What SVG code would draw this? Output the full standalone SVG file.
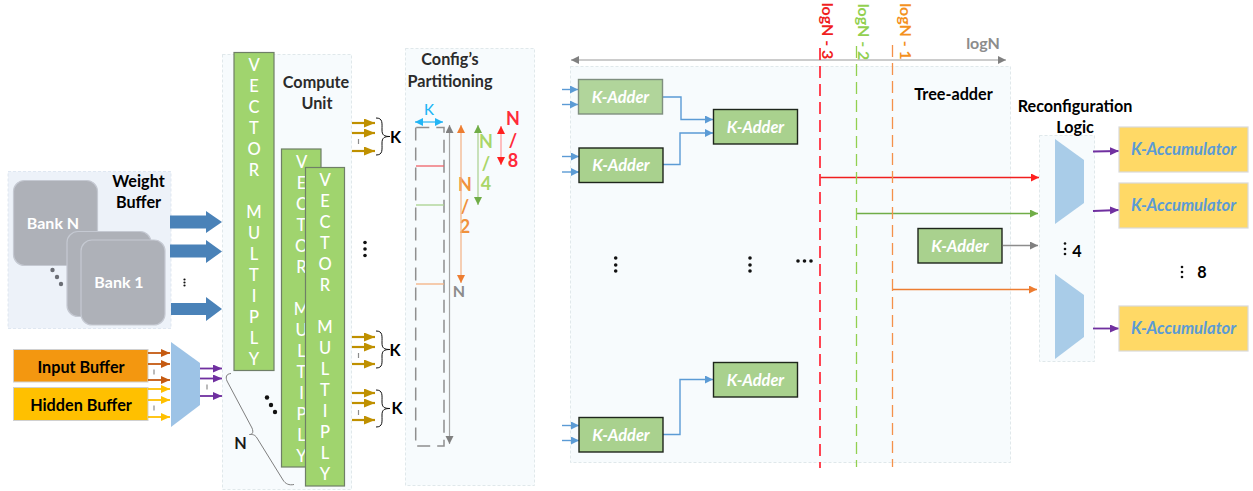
<svg xmlns="http://www.w3.org/2000/svg" width="1253" height="491" viewBox="0 0 1253 491">
<style>
text{font-family:"Lato","Carlito","Open Sans",sans-serif;text-anchor:middle;dominant-baseline:central}
.b{font-weight:700;font-size:16.2px;fill:#000}
.s{font-weight:700;font-size:16.2px;fill:#2b2b2b}
.panel{fill:#f7fbfd;stroke:#d9e2e6;stroke-width:.8;stroke-dasharray:3 2}
.bank{fill:#aeb1b8;stroke:#c5c9d2;stroke-width:1.2}
.bt{font-weight:700;font-size:16px;fill:#fff}
.vm{fill:#a0d46e;stroke:#6f7f67;stroke-width:1.2}
.vt{font-size:16.5px;fill:#fff;font-weight:500}
.ka{fill:#a9d18e;stroke:#1e261c;stroke-width:1.4}
.kt{font-size:16.4px;font-weight:700;font-style:italic;fill:#fff}
.acc{fill:#ffd966;stroke:#d9d9d9;stroke-width:1.2}
.at{font-size:16.6px;font-weight:700;font-style:italic;fill:#5b9bd5}
.mux{fill:#a9cce8}
.w{fill:none}
.tick{stroke:#8c8c8c;stroke-width:1.2}
.dot{fill:#111}
.arrow{fill:#4a82b8}
.frac{font-size:18px;font-weight:700}
.lg{font-size:16px;font-weight:700}
</style>
<defs>
<marker id="mB" markerUnits="userSpaceOnUse" markerWidth="9" markerHeight="9" refX="8" refY="4" orient="auto"><path d="M0 0L8 4L0 8z" fill="#5b9bd5"/></marker>
<marker id="mO" markerUnits="userSpaceOnUse" markerWidth="10" markerHeight="9" refX="9" refY="4" orient="auto"><path d="M0 0L9 4L0 8z" fill="#c55a11"/></marker>
<marker id="mY" markerUnits="userSpaceOnUse" markerWidth="10" markerHeight="9" refX="9" refY="4" orient="auto"><path d="M0 0L9 4L0 8z" fill="#ffc000"/></marker>
<marker id="mP" markerUnits="userSpaceOnUse" markerWidth="10" markerHeight="9" refX="9" refY="4" orient="auto"><path d="M0 0L9 4L0 8z" fill="#7030a0"/></marker>
<marker id="mG" markerUnits="userSpaceOnUse" markerWidth="12" markerHeight="10" refX="11" refY="4.500" orient="auto"><path d="M0 0L11 4.500L0 9z" fill="#bf9000"/></marker>
<marker id="mR" markerUnits="userSpaceOnUse" markerWidth="9" markerHeight="9" refX="8" refY="4" orient="auto-start-reverse"><path d="M0 0L8 4L0 8z" fill="#ff1f1f"/></marker>
<marker id="mL" markerUnits="userSpaceOnUse" markerWidth="9" markerHeight="9" refX="8" refY="4" orient="auto-start-reverse"><path d="M0 0L8 4L0 8z" fill="#70ad47"/></marker>
<marker id="mA" markerUnits="userSpaceOnUse" markerWidth="9" markerHeight="9" refX="8" refY="4" orient="auto-start-reverse"><path d="M0 0L8 4L0 8z" fill="#ed7d31"/></marker>
<marker id="mK" markerUnits="userSpaceOnUse" markerWidth="9" markerHeight="9" refX="8" refY="4" orient="auto-start-reverse"><path d="M0 0L8 4L0 8z" fill="#808080"/></marker>
<marker id="mC" markerUnits="userSpaceOnUse" markerWidth="9" markerHeight="9" refX="8" refY="4" orient="auto-start-reverse"><path d="M0 0L8 4L0 8z" fill="#22b5f5"/></marker>
</defs>

<g id="compute-unit-panel"><rect class="panel" x="222.500" y="54.500" width="129" height="435"/></g>
<g id="config-panel"><rect class="panel" x="405.500" y="48.500" width="129" height="437"/></g>
<g id="tree-adder-panel"><rect class="panel" x="570.500" y="66.500" width="440" height="396"/></g>
<g id="reconfig-panel"><rect class="panel" x="1039.500" y="135.500" width="55" height="226"/></g>

<g id="weight-buffer">
<rect x="8" y="171.500" width="163" height="157" fill="#edf2f9" stroke="#d9e2ee" stroke-width=".8" stroke-dasharray="3 2"/>
<rect class="bank" x="13.500" y="180.500" width="84" height="85" rx="11"/>
<text class="bt" x="53" y="222">Bank N</text>
<rect class="bank" x="67" y="231.500" width="84" height="85" rx="11"/>
<rect class="bank" x="81" y="240" width="84" height="85" rx="11"/>
<text class="bt" x="119" y="281">Bank 1</text>
<circle cx="52.500" cy="270" r="2.200" fill="#6b6e75"/><circle cx="57" cy="277" r="2.200" fill="#6b6e75"/><circle cx="61" cy="284" r="2.200" fill="#6b6e75"/>
<text class="b" x="138.500" y="180">Weight</text>
<text class="b" x="138.500" y="201">Buffer</text>
</g>
<g id="weight-arrows">
<path class="arrow" d="M170 215.500H206V211L222 222L206 233V228.500H170z"/>
<path class="arrow" d="M170 244.500H206V240L222 251.500L206 263V257.500H170z"/>
<path class="arrow" d="M171 303H206V297L222 309L206 321V315H171z"/>
<circle class="dot" cx="184.500" cy="279.500" r="1.100"/><circle class="dot" cx="184.500" cy="282.500" r="1.100"/><circle class="dot" cx="184.500" cy="285.500" r="1.100"/>
</g>

<g id="input-buffer"><rect x="13.500" y="349.500" width="134.500" height="32.500" fill="#f39710" stroke="#d0d0d0" stroke-width="1"/><text class="b" x="81" y="366">Input Buffer</text></g>
<g id="hidden-buffer"><rect x="13.500" y="387.500" width="134.500" height="33" fill="#ffc000" stroke="#d0d0d0" stroke-width="1"/><text class="b" x="81" y="404">Hidden Buffer</text></g>
<g id="input-mux"><polygon points="171,342 200,363 200,405 171,427" fill="#9dc3e6"/></g>

<g id="vector-multiply-1"><rect class="vm" x="234" y="52.500" width="40" height="318"/>
<text class="vt" x="254" y="65">V</text><text class="vt" x="254" y="86">E</text><text class="vt" x="254" y="107">C</text><text class="vt" x="254" y="128">T</text><text class="vt" x="254" y="149">O</text><text class="vt" x="254" y="170">R</text><text class="vt" x="254" y="212">M</text><text class="vt" x="254" y="233">U</text><text class="vt" x="254" y="254">L</text><text class="vt" x="254" y="275">T</text><text class="vt" x="254" y="296">I</text><text class="vt" x="254" y="317">P</text><text class="vt" x="254" y="338">L</text><text class="vt" x="254" y="359">Y</text></g>
<g id="vector-multiply-2"><rect class="vm" x="281.500" y="149" width="39.500" height="318"/>
<text class="vt" x="301.500" y="162">V</text><text class="vt" x="301.500" y="183">E</text><text class="vt" x="301.500" y="204">C</text><text class="vt" x="301.500" y="225">T</text><text class="vt" x="301.500" y="246">O</text><text class="vt" x="301.500" y="267">R</text><text class="vt" x="301.500" y="309">M</text><text class="vt" x="301.500" y="330">U</text><text class="vt" x="301.500" y="351">L</text><text class="vt" x="301.500" y="372">T</text><text class="vt" x="301.500" y="393">I</text><text class="vt" x="301.500" y="414">P</text><text class="vt" x="301.500" y="435">L</text><text class="vt" x="301.500" y="456">Y</text></g>
<g id="vector-multiply-3"><rect class="vm" x="305.500" y="167.500" width="39" height="318.500"/>
<text class="vt" x="325" y="180">V</text><text class="vt" x="325" y="201">E</text><text class="vt" x="325" y="222">C</text><text class="vt" x="325" y="243">T</text><text class="vt" x="325" y="264">O</text><text class="vt" x="325" y="285">R</text><text class="vt" x="325" y="327">M</text><text class="vt" x="325" y="348">U</text><text class="vt" x="325" y="369">L</text><text class="vt" x="325" y="390">T</text><text class="vt" x="325" y="411">I</text><text class="vt" x="325" y="432">P</text><text class="vt" x="325" y="453">L</text><text class="vt" x="325" y="474">Y</text></g>

<g id="compute-labels">
<text class="s" x="316" y="81">Compute</text>
<text class="s" x="317" y="102">Unit</text>
<text class="b" x="240.500" y="442" style="fill:#1a1a1a">N</text>
<circle class="dot" cx="267" cy="397.500" r="2.200"/><circle class="dot" cx="271" cy="405" r="2.200"/><circle class="dot" cx="275" cy="412" r="2.200"/>
<circle class="dot" cx="365" cy="242.500" r="1.800"/><circle class="dot" cx="365" cy="249" r="1.800"/><circle class="dot" cx="365" cy="255.500" r="1.800"/>
<path d="M231 373.500C226 374 225.500 377 227 381L252 428C254 433 252 434.500 249.500 434.500C252 434.500 254.500 434 257 438L283 480C285.500 484 289 485.500 294 484.500" fill="none" stroke="#7f7f7f" stroke-width="1"/>
<text class="b" x="395.500" y="136">K</text><text class="b" x="395" y="349">K</text><text class="b" x="397" y="407">K</text>
<path d="M376 118C383 118 382 123 382 130C382 135 384 136.500 390 136.500C384 136.500 382 138 382 143C382 150 383 155 376 155" fill="none" stroke="#111" stroke-width="1"/>
<path d="M376 331C383 331 382 336 382 343C382 348 384 349.500 390 349.500C384 349.500 382 351 382 356C382 363 383 368 376 368" fill="none" stroke="#111" stroke-width="1"/>
<path d="M376 390C383 390 382 395 382 402C382 407 384 408.500 390 408.500C384 408.500 382 410 382 415C382 422 383 427 376 427" fill="none" stroke="#111" stroke-width="1"/>
</g>

<g id="config-labels">
<text class="s" x="450" y="58">Config’s</text>
<text class="s" x="450" y="80">Partitioning</text>
<text x="429" y="108.500" style="font-size:15px;fill:#22b5f5;font-weight:500">K</text>
<text x="459" y="290.500" style="font-size:16px;font-weight:700;fill:#8c8c8c">N</text>
<g class="frac" style="fill:#f0923c"><text x="465" y="184">N</text><text x="465" y="206">/</text><text x="465" y="226">2</text></g>
<g class="frac" style="fill:#a9d668"><text x="486" y="141">N</text><text x="486" y="163">/</text><text x="486" y="183">4</text></g>
<g class="frac" style="fill:#ff2a3a"><text x="513" y="118">N</text><text x="513" y="140">/</text><text x="513" y="160">8</text></g>
<path d="M415.700 127.500V446H444V127.500H415.700" fill="none" stroke="#8f8f8f" stroke-width="1.500" stroke-dasharray="13 7"/>
</g>

<g id="connectors">
<g class="w" stroke-width="1.800">
<g stroke="#c55a11"><path d="M148 353H170" marker-end="url(#mO)"/><path d="M148 364H170" marker-end="url(#mO)"/><path d="M148 380H170" marker-end="url(#mO)"/></g>
<g stroke="#ffc000"><path d="M148 389H170" marker-end="url(#mY)"/><path d="M148 400H170" marker-end="url(#mY)"/><path d="M148 417H170" marker-end="url(#mY)"/></g>
<g stroke="#7030a0"><path d="M200 368.500H222" marker-end="url(#mP)"/><path d="M200 378.500H222" marker-end="url(#mP)"/><path d="M200 396H222" marker-end="url(#mP)"/>
<path d="M1093 151.500L1119 151" marker-end="url(#mP)"/><path d="M1093 211L1119 210" marker-end="url(#mP)"/><path d="M1093 328.500H1119" marker-end="url(#mP)"/></g>
<g stroke="#bf9000" stroke-width="2.200"><path d="M352 123H375" marker-end="url(#mG)"/><path d="M352 133H375" marker-end="url(#mG)"/><path d="M352 151H375" marker-end="url(#mG)"/>
<path d="M352 337H375" marker-end="url(#mG)"/><path d="M352 347H375" marker-end="url(#mG)"/><path d="M352 364H375" marker-end="url(#mG)"/>
<path d="M352 393H375" marker-end="url(#mG)"/><path d="M352 403H375" marker-end="url(#mG)"/><path d="M352 420H375" marker-end="url(#mG)"/></g>
<path d="M415 122H443" stroke="#22b5f5" stroke-width="1.200" marker-start="url(#mC)" marker-end="url(#mC)"/>
<path d="M449.500 125V444" stroke="#a6a6a6" stroke-width="1.200" marker-start="url(#mK)" marker-end="url(#mK)"/>
<path d="M461 125V283" stroke="#f4b183" stroke-width="1.200" marker-start="url(#mA)" marker-end="url(#mA)"/>
<path d="M478 125V205" stroke="#a9d18e" stroke-width="1.200" marker-start="url(#mL)" marker-end="url(#mL)"/>
<path d="M501 126V165" stroke="#ffaaaa" stroke-width="1.500" marker-start="url(#mR)" marker-end="url(#mR)"/>
<path d="M416 166H444" stroke="#f06068" stroke-width="1.300"/><path d="M416 205H444" stroke="#a9d18e" stroke-width="1.300"/><path d="M416 284H444" stroke="#f4b183" stroke-width="1.300"/>
<g stroke="#5b9bd5" stroke-width="1.400"><path d="M562 89.500H578" marker-end="url(#mB)"/><path d="M562 104.500H578" marker-end="url(#mB)"/><path d="M562 156.500H579" marker-end="url(#mB)"/><path d="M562 172H579" marker-end="url(#mB)"/><path d="M562 425.500H579" marker-end="url(#mB)"/><path d="M562 440.500H579" marker-end="url(#mB)"/>
<path d="M663 97H681V119.500H713" marker-end="url(#mB)"/><path d="M663 164.500H680V133H713" marker-end="url(#mB)"/><path d="M663 434.500H680V379.500H713" marker-end="url(#mB)"/></g>
<path d="M571 60H1006" stroke="#999" stroke-width="1.200" marker-start="url(#mK)" marker-end="url(#mK)"/>
<path d="M820 177.500H1039" stroke="#f01f1f" stroke-width="1.400" marker-end="url(#mR)"/>
<path d="M856.500 213.500H1038" stroke="#70ad47" stroke-width="1.500" marker-end="url(#mL)"/>
<path d="M893 289.500H1037" stroke="#ed7d31" stroke-width="1.500" marker-end="url(#mA)"/>
<path d="M1003 245.500H1038" stroke="#8c8c8c" stroke-width="1.600" marker-end="url(#mK)"/>
</g>
<path d="M820 48V468" stroke="#ff3040" stroke-width="1.800" fill="none" stroke-dasharray="12 6"/>
<path d="M856.500 46V467" stroke="#92d050" stroke-width="1.300" fill="none" stroke-dasharray="12 6"/>
<path d="M892.500 45V467" stroke="#f4914a" stroke-width="1.300" fill="none" stroke-dasharray="12 6"/>
<line class="tick" x1="154" y1="369.500" x2="154" y2="374.500"/><line class="tick" x1="154" y1="405.500" x2="154" y2="410.500"/><line class="tick" x1="207" y1="384.500" x2="207" y2="389.500"/>
<line class="tick" x1="358.500" y1="139" x2="358.500" y2="144"/><line class="tick" x1="358.500" y1="353" x2="358.500" y2="358"/><line class="tick" x1="358.500" y1="410" x2="358.500" y2="415"/>
</g>

<g id="k-adder-1"><rect class="ka" style="fill:#b1d59b;stroke:#7f8f7f" x="578.500" y="79.500" width="84" height="34.500"/><text class="kt" x="620.500" y="96">K-Adder</text></g>
<g id="k-adder-2"><rect class="ka" x="579" y="148" width="84" height="34.500"/><text class="kt" x="621" y="164">K-Adder</text></g>
<g id="k-adder-3"><rect class="ka" x="713.500" y="109.500" width="84" height="34.500"/><text class="kt" x="755.500" y="126">K-Adder</text></g>
<g id="k-adder-4"><rect class="ka" x="579" y="417.500" width="84" height="34.500"/><text class="kt" x="621" y="434">K-Adder</text></g>
<g id="k-adder-5"><rect class="ka" x="713.500" y="362.500" width="84" height="34.500"/><text class="kt" x="755.500" y="379">K-Adder</text></g>
<g id="k-adder-6"><rect class="ka" x="918" y="228.500" width="84" height="34.500"/><text class="kt" x="960" y="245">K-Adder</text></g>

<g id="tree-labels">
<text class="b" x="953.500" y="93">Tree-adder</text>
<text x="983" y="42.500" style="font-size:16px;font-weight:700;fill:#8c8c8c">logN</text>
<text class="lg" transform="translate(828 31) rotate(90)" style="fill:#f01f1f">logN - 3</text>
<text class="lg" transform="translate(864 32) rotate(90)" style="fill:#92d050">logN - 2</text>
<text class="lg" transform="translate(906 31.500) rotate(90)" style="fill:#f4911e">logN - 1</text>
<circle class="dot" cx="615.700" cy="258" r="1.800"/><circle class="dot" cx="615.700" cy="265" r="1.800"/><circle class="dot" cx="615.700" cy="271" r="1.800"/>
<circle class="dot" cx="750" cy="258" r="1.800"/><circle class="dot" cx="750" cy="265" r="1.800"/><circle class="dot" cx="750" cy="271" r="1.800"/>
<circle class="dot" cx="798" cy="261" r="1.800"/><circle class="dot" cx="804.500" cy="261" r="1.800"/><circle class="dot" cx="811" cy="261" r="1.800"/>
</g>

<g id="reconfig">
<text class="b" x="1075" y="105">Reconfiguration</text>
<text class="b" x="1075" y="126">Logic</text>
<polygon class="mux" points="1055,139 1084,160 1084,203 1055,224"/>
<polygon class="mux" points="1055,274 1084,295 1084,337 1055,359"/>
<circle class="dot" cx="1065" cy="243.500" r="1.300"/><circle class="dot" cx="1065" cy="249" r="1.300"/><circle class="dot" cx="1065" cy="254" r="1.300"/>
<text class="b" x="1077" y="250">4</text>
<circle class="dot" cx="1182" cy="267" r="1.300"/><circle class="dot" cx="1182" cy="272" r="1.300"/><circle class="dot" cx="1182" cy="277" r="1.300"/>
<text class="b" x="1202" y="271">8</text>
</g>
<g id="k-accumulator-1"><rect class="acc" x="1119" y="127" width="129" height="45"/><text class="at" x="1183.500" y="148.500">K-Accumulator</text></g>
<g id="k-accumulator-2"><rect class="acc" x="1119" y="183" width="129" height="45"/><text class="at" x="1183.500" y="204.500">K-Accumulator</text></g>
<g id="k-accumulator-3"><rect class="acc" x="1119" y="306" width="129" height="45"/><text class="at" x="1183.500" y="327.500">K-Accumulator</text></g>
</svg>
